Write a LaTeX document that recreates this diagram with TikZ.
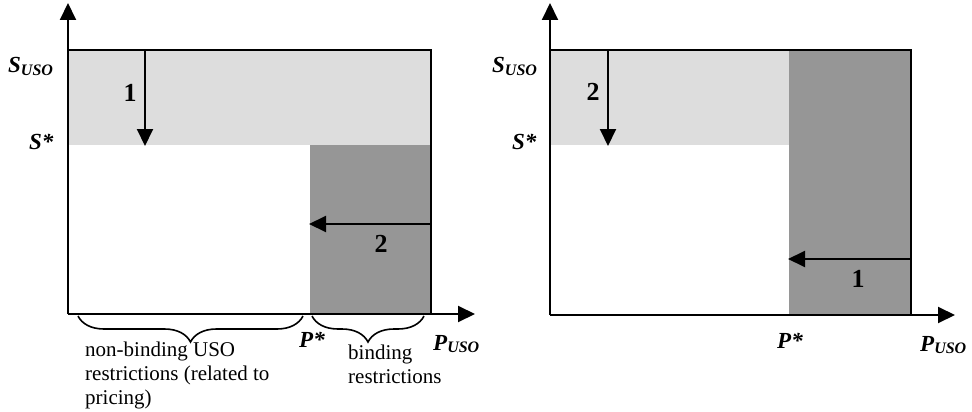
\documentclass[tikz,border=0pt]{standalone}
\usepackage{fontspec}
\setmainfont{Liberation Serif}
\usetikzlibrary{arrows.meta,decorations.pathreplacing}
\definecolor{lightreg}{HTML}{DDDDDD}
\definecolor{darkreg}{HTML}{969696}
\newcommand{\lbl}[1]{{\fontsize{23}{25}\selectfont\bfseries\itshape #1}}
\newcommand{\sub}[2]{\lbl{#1}\raisebox{-2pt}{\fontsize{16}{18}\selectfont\bfseries\itshape #2}}
\begin{document}
\begin{tikzpicture}[x=1pt,y=-1pt,
  axis/.style={line width=2pt,-{Triangle[length=17pt,width=16pt]}},
  border/.style={line width=2pt},
  move/.style={line width=2pt,-{Triangle[length=17pt,width=16pt]}},
  brc/.style={decorate,decoration={brace,mirror,amplitude=26pt},line width=1.6pt},
  lab/.style={inner sep=0pt,anchor=base west},
  num/.style={inner sep=0pt,anchor=base,font=\fontsize{26}{28}\selectfont\bfseries},
  body/.style={inner sep=0pt,anchor=north west,align=left,font=\fontsize{21}{24}\selectfont}]
\useasboundingbox (0,0) rectangle (972,412);
% ---------- left panel ----------
\coordinate (LO) at (68,314);
\coordinate (LY) at (68,3);
\coordinate (LX) at (475,314);
\coordinate (LTL) at (68,50);
\coordinate (LTR) at (431,50);
\coordinate (LBR) at (431,314);
\fill[lightreg] (68,50) rectangle (431,145);
\fill[darkreg] (310,145) rectangle (431,314);
\draw[border] (LTL) -- (LTR) -- (LBR);
\draw[axis] (LO) -- (LY);
\draw[axis] (LO) -- (LX);
\coordinate (La1s) at (145,50);
\coordinate (La1e) at (145,146);
\coordinate (La2s) at (431,224);
\coordinate (La2e) at (309,224);
\draw[move] (La1s) -- (La1e);
\draw[move] (La2s) -- (La2e);
\node[num] (Ln1) at (130,102) {1};
\node[num] (Ln2) at (381,252) {2};
\node[lab] (LSuso) at (8,73) {\sub{S}{USO}};
\node[lab] (LSstar) at (29,149) {\lbl{S*}};
\node[lab] (LPstar) at (299,347) {\lbl{P*}};
\node[lab] (LPuso) at (433,350) {\sub{P}{USO}};
\coordinate (Lb1a) at (78,316);
\coordinate (Lb1b) at (303,316);
\coordinate (Lb2a) at (312,316);
\coordinate (Lb2b) at (424,316);
\draw[brc] (Lb1a) -- (Lb1b);
\draw[brc] (Lb2a) -- (Lb2b);
\node[body] (Ltxt1) at (85,341.5) {non-binding USO\\restrictions (related to\\pricing)};
\node[body] (Ltxt2) at (348,344.5) {binding\\restrictions};
% ---------- right panel ----------
\coordinate (RO) at (550,315);
\coordinate (RY) at (550,3);
\coordinate (RX) at (955,315);
\coordinate (RTL) at (550,50);
\coordinate (RTR) at (911,50);
\coordinate (RBR) at (911,315);
\fill[lightreg] (550,50) rectangle (789,145);
\fill[darkreg] (789,50) rectangle (911,315);
\draw[border] (RTL) -- (RTR) -- (RBR);
\draw[axis] (RO) -- (RY);
\draw[axis] (RO) -- (RX);
\coordinate (Ra2s) at (608,50);
\coordinate (Ra2e) at (608,146);
\coordinate (Ra1s) at (911,259);
\coordinate (Ra1e) at (788,259);
\draw[move] (Ra2s) -- (Ra2e);
\draw[move] (Ra1s) -- (Ra1e);
\node[num] (Rn2) at (593,100) {2};
\node[num] (Rn1) at (858,287) {1};
\node[lab] (RSuso) at (492,73) {\sub{S}{USO}};
\node[lab] (RSstar) at (512,149) {\lbl{S*}};
\node[lab] (RPstar) at (777,348) {\lbl{P*}};
\node[lab] (RPuso) at (920,351) {\sub{P}{USO}};
\end{tikzpicture}
\end{document}
